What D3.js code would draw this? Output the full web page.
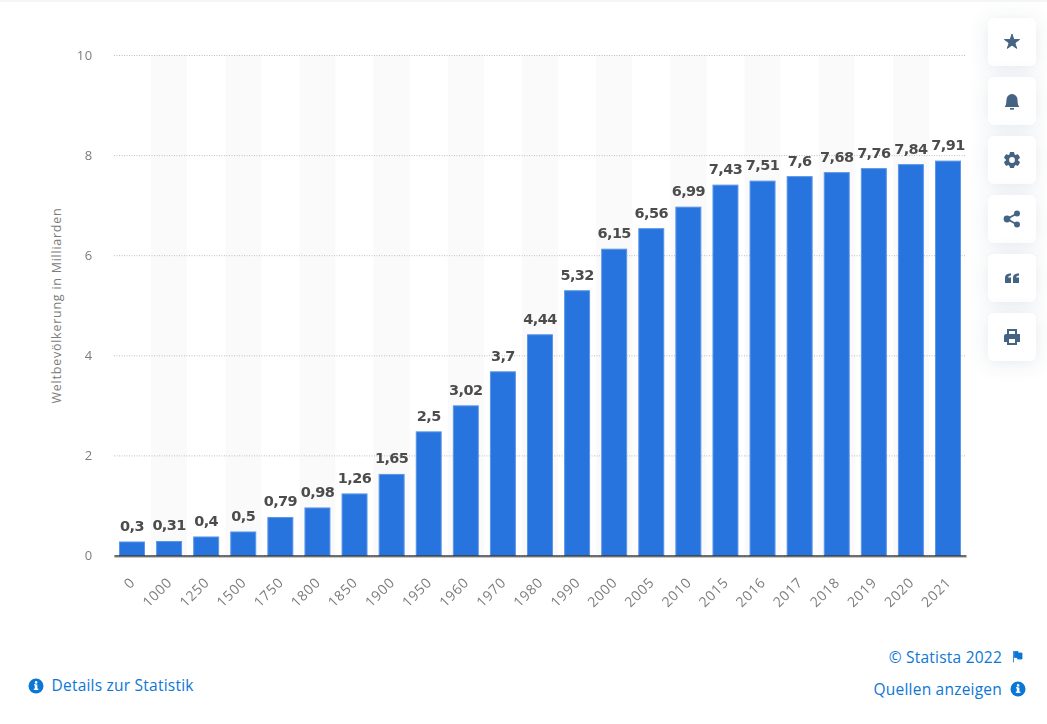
<!DOCTYPE html>
<html>
<head>
<meta charset="utf-8">
<script src="https://cdnjs.cloudflare.com/ajax/libs/d3/7.8.5/d3.min.js"></script>
<style>
  html, body { margin: 0; padding: 0; background: #fff; overflow: hidden; }
  svg { display: block; font-family: "Open Sans", sans-serif; }
</style>
</head>
<body>
<svg id="chart" width="1047" height="724"></svg>
<script>
const years = ["0", "1000", "1250", "1500", "1750", "1800", "1850", "1900", "1950", "1960", "1970",
               "1980", "1990", "2000", "2005", "2010", "2015", "2016", "2017", "2018", "2019", "2020", "2021"];
const population = [0.3, 0.31, 0.4, 0.5, 0.79, 0.98, 1.26, 1.65, 2.5, 3.02, 3.7,
                    4.44, 5.32, 6.15, 6.56, 6.99, 7.43, 7.51, 7.6, 7.68, 7.76, 7.84, 7.91];
const yTicks = [0, 2, 4, 6, 8, 10];

const blue = "#2874de", linkBlue = "#0a76d6", iconBlue = "#456484";
const margin = {top: 55, right: 81, bottom: 168.5, left: 114};
const width = 1047, height = 724;

const svg = d3.select("#chart");

// soft shadow for the buttons on the right
const defs = svg.append("defs");
const shadow = defs.append("filter").attr("id", "cardShadow")
    .attr("x", "-60%").attr("y", "-60%").attr("width", "220%").attr("height", "220%");
shadow.append("feDropShadow").attr("dx", 0).attr("dy", 2).attr("stdDeviation", 9)
    .attr("flood-color", "#5a7391").attr("flood-opacity", 0.16);

svg.append("rect").attr("width", width).attr("height", 2).attr("fill", "#f4f5f7");

const x = d3.scaleBand()
    .domain(years)
    .range([margin.left, width - margin.right])
    .paddingInner(0.3)
    .paddingOuter(0.135);

const y = d3.scaleLinear()
    .domain([0, 10])
    .range([height - margin.bottom, margin.top]);

// alternating background stripes
svg.append("g").selectAll("rect")
    .data(years.filter((d, i) => i % 2 === 1))
    .enter().append("rect")
    .attr("x", d => x(d) + x.bandwidth() / 2 - 18)
    .attr("y", y(10))
    .attr("width", 36)
    .attr("height", y(0) - y(10))
    .attr("fill", "#fafafa");

// y axis, gridlines come from the tick lines
const yAxis = svg.append("g")
    .attr("transform", `translate(${margin.left},0)`)
    .style("opacity", 0.99)
    .call(d3.axisLeft(y).tickValues(yTicks).tickSize(-(width - margin.left - margin.right)).tickPadding(21));
yAxis.select(".domain").remove();
yAxis.selectAll("line")
    .attr("stroke", "#bdbdbd")
    .attr("stroke-dasharray", "1,1.5");
yAxis.selectAll("text")
    .attr("fill", "#7b7b7b")
    .style("font", "13px 'Open Sans'")
    .style("letter-spacing", "0.7px");

svg.append("text")
    .attr("transform", "translate(61,305.5) rotate(-90)")
    .attr("text-anchor", "middle")
    .attr("fill", "#7b7b7b")
    .style("opacity", 0.99)
    .style("font", "12.5px 'Open Sans'")
    .style("letter-spacing", "0.75px")
    .text("Weltbevölkerung in Milliarden");

// bars, with the faint lighter edge of the original
svg.append("g").selectAll("rect")
    .data(population)
    .enter().append("rect")
    .attr("x", (d, i) => x(years[i]) + 0.5)
    .attr("y", d => y(d) + 1.5)
    .attr("width", x.bandwidth() - 1)
    .attr("height", d => y(0) - y(d) - 1.5)
    .attr("fill", blue)
    .attr("stroke", "#5c96e8")
    .attr("stroke-width", 1);

// value labels
svg.append("g").style("opacity", 0.99).selectAll("text")
    .data(population)
    .enter().append("text")
    .attr("x", (d, i) => x(years[i]) + x.bandwidth() / 2)
    .attr("y", d => y(d) - 9.5)
    .attr("text-anchor", "middle")
    .attr("fill", "#4a4a4a")
    .style("font", "bold 14.5px 'DejaVu Sans'")
    .style("letter-spacing", "-0.6px")
    .text(d => String(d).replace(".", ","));

// x axis
const xAxis = svg.append("g")
    .attr("transform", `translate(0,${y(0)})`)
    .style("opacity", 0.99)
    .call(d3.axisBottom(x).tickSize(0));
xAxis.select(".domain").attr("stroke", "#1c1c1c").attr("stroke-width", 1.6);
xAxis.selectAll("text")
    .attr("fill", "#7b7b7b")
    .style("font", "14px 'Open Sans'")
    .style("letter-spacing", "0.7px")
    .attr("text-anchor", "end")
    .attr("transform", "translate(-1,23) rotate(-45)")
    .attr("dy", "0.5em")
    .attr("dx", 0)
    .attr("y", 0);

// buttons
const icons = [
  g => g.append("path").attr("d", d3.symbol(d3.symbolStar, 70)()).attr("fill", iconBlue).attr("stroke", iconBlue).attr("stroke-width", 1).attr("stroke-linejoin", "round"),
  g => {
    g.append("path").attr("d", "M-7,5.2 C-5.2,3.8 -6,-1 -5,-3.4 C-4.2,-5.8 -2,-7 0,-7 C2,-7 4.2,-5.8 5,-3.4 C6,-1 5.2,3.8 7,5.2 L7,6 L-7,6 Z").attr("fill", iconBlue);
    g.append("rect").attr("x", -2).attr("y", 7).attr("width", 4).attr("height", 1.6).attr("fill", iconBlue);
  },
  g => {
    g.selectAll("rect").data(d3.range(6)).enter().append("rect")
      .attr("x", -2.2).attr("y", -8).attr("width", 4.4).attr("height", 16).attr("rx", 1)
      .attr("transform", d => `rotate(${d * 60})`).attr("fill", iconBlue);
    g.append("circle").attr("r", 4.6).attr("fill", "#fff").attr("stroke", iconBlue).attr("stroke-width", 3.4);
  },
  g => {
    g.append("path").attr("d", "M5,-5.5 L-5,0 L5,5.5").attr("fill", "none").attr("stroke", iconBlue).attr("stroke-width", 1.8);
    [[5, -5.5, 3], [-5, 0, 3.4], [5, 5.5, 3]].forEach(p => g.append("circle").attr("cx", p[0]).attr("cy", p[1]).attr("r", p[2]).attr("fill", iconBlue));
  },
  g => {
    [-7, 1].forEach(o => g.append("path")
      .attr("d", `M${o},5 L${o},-0.5 C${o},-3 ${o + 2},-4.5 ${o + 6},-4.8 L${o + 6},-2.4 C${o + 4.4},-2.2 ${o + 3.4},-1.6 ${o + 3},-0.5 L${o + 6},-0.5 L${o + 6},5 Z`)
      .attr("fill", iconBlue));
  },
  g => {
    g.append("path").attr("fill", iconBlue).attr("fill-rule", "evenodd")
      .attr("d", "M-5,-8 L5,-8 L5,-3 L8,-3 Q8,-3 8,-1 L8,5 L5,5 L5,8 L-5,8 L-5,5 L-8,5 L-8,-1 Q-8,-3 -6,-3 L-5,-3 Z M-3,-6 L-3,-3 L3,-3 L3,-6 Z M-3,2 L-3,6 L3,6 L3,2 Z");
  }
];
const cardTops = [18, 77, 136, 195, 254, 313];
cardTops.forEach((top, i) => {
  const card = svg.append("g").attr("transform", `translate(988,${top})`);
  card.append("rect").attr("width", 48).attr("height", 48).attr("rx", 6).attr("fill", "#fff").attr("filter", "url(#cardShadow)");
  icons[i](card.append("g").attr("transform", "translate(24,24)"));
});

// footer links
function infoIcon(cx, cy) {
  const g = svg.append("g").attr("transform", `translate(${cx},${cy})`);
  g.append("circle").attr("r", 7.5).attr("fill", linkBlue);
  g.append("rect").attr("x", -1.2).attr("y", -1.5).attr("width", 2.6).attr("height", 5).attr("fill", "#fff");
  g.append("rect").attr("x", -2.2).attr("y", 2.6).attr("width", 4.6).attr("height", 1.3).attr("fill", "#fff");
  g.append("rect").attr("x", -2).attr("y", -1.8).attr("width", 2).attr("height", 1.2).attr("fill", "#fff");
  g.append("circle").attr("cx", 0.1).attr("cy", -3.6).attr("r", 1.3).attr("fill", "#fff");
}
const link = (tx, ty, anchor, label) => svg.append("text")
    .attr("x", tx).attr("y", ty).attr("text-anchor", anchor)
    .attr("fill", linkBlue)
    .style("opacity", 0.99)
    .style("font", "15.5px 'Open Sans'")
    .style("letter-spacing", "0.22px")
    .text(label);

infoIcon(36, 686);
link(51.5, 691, "start", "Details zur Statistik");
link(1002, 663, "end", "© Statista 2022");
link(1002, 695, "end", "Quellen anzeigen");
infoIcon(1018, 689);

svg.append("path")
    .attr("d", "M1013.5,651 L1013.5,662.5 M1014.5,651.5 L1018,651.5 L1018,653 L1022,653 L1022,659 L1017.5,659 L1017.5,657.5 L1014.5,657.5 Z")
    .attr("fill", linkBlue).attr("stroke", linkBlue).attr("stroke-width", 0.8);
</script>
</body>
</html>
